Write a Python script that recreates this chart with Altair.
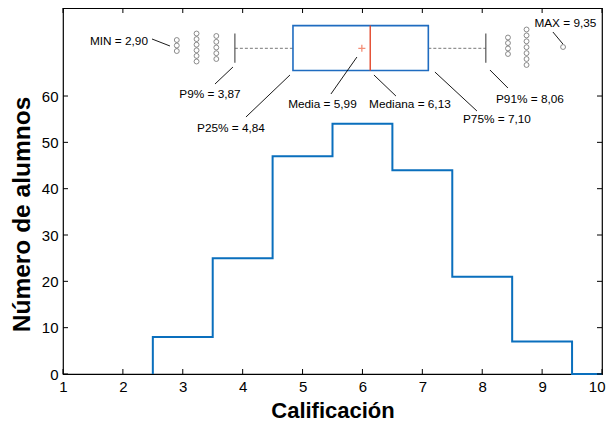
import altair as alt
import pandas as pd

W, H = 539, 366

# Histogram (step outline)
bin_left = [2.5, 3.5, 4.5, 5.5, 6.5, 7.5, 8.5, 9.5]
counts = [8, 25, 47, 54, 44, 21, 7, 0]
x_end = 10

# Summary statistics
stat_min, p9, p25, media, mediana, p75, p91, stat_max = 2.90, 3.87, 4.84, 5.99, 6.13, 7.10, 8.06, 9.35

# Box vertical placement (count units)
box_low, box_high = 65.5, 75.2
mid_y = 70.3
cap_low, cap_high = 67.2, 73.5

# Outliers
out_x = [2.90] * 3 + [3.23] * 6 + [3.56] * 5 + [8.43] * 4 + [8.74] * 7 + [9.35]
out_y = [72.09, 70.90, 69.71,
         73.49, 72.29, 71.08, 69.87, 68.66, 67.45,
         72.96, 71.70, 70.47, 69.24, 67.99,
         72.63, 71.44, 70.26, 69.07,
         74.36, 73.08, 71.81, 70.54, 69.26, 67.99, 66.70,
         70.58]

# Annotations
lab_text = ["MIN = 2,90", "P9% = 3,87", "P25% = 4,84", "Media = 5,99",
            "Mediana = 6,13", "P75% = 7,10", "P91% = 8,06", "MAX = 9,35"]
lab_x = [2.419, 3.454, 3.805, 5.332, 6.793, 8.245, 8.796, 9.389]
lab_y = [71.88, 60.44, 53.10, 58.28, 58.28, 55.04, 59.36, 75.76]
lab_align = ["right", "center", "center", "center", "center", "center", "center", "center"]
lead_x1 = [2.486, 3.838, 4.790, 5.908, 6.192, 7.210, 8.129, 9.180]
lead_y1 = [72.31, 66.26, 64.54, 68.42, 64.54, 65.18, 65.62, 73.82]
lead_x2 = [2.786, 3.538, 4.055, 5.474, 6.559, 7.912, 8.429, 9.347]
lead_y2 = [70.80, 62.59, 55.47, 60.44, 60.00, 56.77, 61.73, 71.23]

x_ticks = [1, 2, 3, 4, 5, 6, 7, 8, 9, 10]
y_ticks = [0, 10, 20, 30, 40, 50, 60]

FONT = "Liberation Sans"
BLUE = "#0a6fbd"
xs = alt.Scale(domain=[1, 10], nice=False, zero=False)
ys = alt.Scale(domain=[0, 79], nice=False, zero=False)
xax = alt.Axis(values=x_ticks, labelPadding=5, titlePadding=6, labelFlush=False, title="Calificación",
               labelAlign={"condition": {"test": "datum.value == 10", "value": "right"}, "value": "center"},
               labelOffset={"condition": {"test": "datum.value == 10", "value": 3}, "value": 0})
yax = alt.Axis(values=y_ticks, labelPadding=5, titlePadding=7, title="Número de alumnos",
               titleFontSize=24.5, titleY=206)


def X(f):
    return alt.X(f, scale=xs, axis=xax)


def Y(f):
    return alt.Y(f, scale=ys, axis=yax)


# step data
step_x = [bin_left[0]] + bin_left + [x_end]
step_y = [0] + counts + [0]
step_df = pd.DataFrame({"x": step_x, "y": step_y, "o": list(range(len(step_x)))})

hist = alt.Chart(step_df).mark_line(interpolate="step-after", color=BLUE, strokeWidth=2).encode(
    x=X("x:Q"), y=Y("y:Q"), order="o:O")

box_df = pd.DataFrame({"x": [p25], "x2": [p75], "y": [box_low], "y2": [box_high]})
box = alt.Chart(box_df).mark_rect(fill="white", fillOpacity=0, stroke="#1f6cc0", strokeWidth=1.6).encode(
    x=X("x:Q"), x2="x2:Q", y=Y("y:Q"), y2="y2:Q")

med_df = pd.DataFrame({"x": [mediana], "y": [box_low], "y2": [box_high]})
med = alt.Chart(med_df).mark_rule(color="#e2462a", strokeWidth=1.4).encode(
    x=X("x:Q"), y=Y("y:Q"), y2="y2:Q")

mean_df = pd.DataFrame({"x": [media], "y": [mid_y]})
mean = alt.Chart(mean_df).mark_point(shape="M -1 0 L 1 0 M 0 -1 L 0 1", size=50, filled=False,
                                     color="#f0603e", strokeWidth=1.3).encode(
    x=X("x:Q"), y=Y("y:Q"))

wh_df = pd.DataFrame({"x": [p9, p75], "x2": [p25, p91], "y": [mid_y, mid_y]})
whisk = alt.Chart(wh_df).mark_rule(color="#777777", strokeWidth=1, strokeDash=[3, 2]).encode(
    x=X("x:Q"), x2="x2:Q", y=Y("y:Q"))

cap_df = pd.DataFrame({"x": [p9, p91], "y": [cap_low, cap_low], "y2": [cap_high, cap_high]})
caps = alt.Chart(cap_df).mark_rule(color="#555555", strokeWidth=1.2).encode(
    x=X("x:Q"), y=Y("y:Q"), y2="y2:Q")

out_df = pd.DataFrame({"x": out_x, "y": out_y})
outl = alt.Chart(out_df).mark_point(shape="circle", size=24, filled=False, color="#333333", strokeWidth=0.8).encode(
    x=X("x:Q"), y=Y("y:Q"))

lead_df = pd.DataFrame({"x": lead_x1, "y": lead_y1, "x2": lead_x2, "y2": lead_y2})
leads = alt.Chart(lead_df).mark_rule(color="black", strokeWidth=0.9).encode(
    x=X("x:Q"), x2="x2:Q", y=Y("y:Q"), y2="y2:Q")

lab_df = pd.DataFrame({"t": lab_text, "x": lab_x, "y": lab_y, "a": lab_align})
labs_r = alt.Chart(lab_df[lab_df.a == "right"]).mark_text(
    font=FONT, fontSize=11.8, align="right", baseline="middle", color="black").encode(
    x=X("x:Q"), y=Y("y:Q"), text="t:N")
labs_c = alt.Chart(lab_df[lab_df.a == "center"]).mark_text(
    font=FONT, fontSize=11.8, align="center", baseline="middle", color="black").encode(
    x=X("x:Q"), y=Y("y:Q"), text="t:N")

# inward ticks on all four sides
xt_df = pd.DataFrame({"v": x_ticks})
yt_df = pd.DataFrame({"v": y_ticks})
TL = 5
tick_b = alt.Chart(xt_df).mark_rule(color="black", strokeWidth=1).encode(
    x=X("v:Q"), y=alt.value(H), y2=alt.value(H - TL))
tick_t = alt.Chart(xt_df).mark_rule(color="black", strokeWidth=1).encode(
    x=X("v:Q"), y=alt.value(0), y2=alt.value(TL))
tick_l = alt.Chart(yt_df).mark_rule(color="black", strokeWidth=1).encode(
    y=Y("v:Q"), x=alt.value(0), x2=alt.value(TL))
tick_r = alt.Chart(yt_df).mark_rule(color="black", strokeWidth=1).encode(
    y=Y("v:Q"), x=alt.value(W), x2=alt.value(W - TL))

chart = alt.layer(hist, whisk, caps, box, med, mean, outl, leads, labs_r, labs_c,
                  tick_b, tick_t, tick_l, tick_r).properties(
    width=W, height=H,
    autosize=alt.AutoSizeParams(type="none"),
    padding={"left": 55, "top": 0, "right": 4, "bottom": 50},
).configure_view(stroke="black", strokeWidth=1.2).configure_axis(
    domain=False, ticks=False, grid=False,
    labelFont=FONT, labelFontSize=15, labelColor="black",
    titleFont=FONT, titleFontSize=22, titleFontWeight="bold", titleColor="black",
)

chart.save("out.html", embed_options={"renderer": "svg", "actions": False})
